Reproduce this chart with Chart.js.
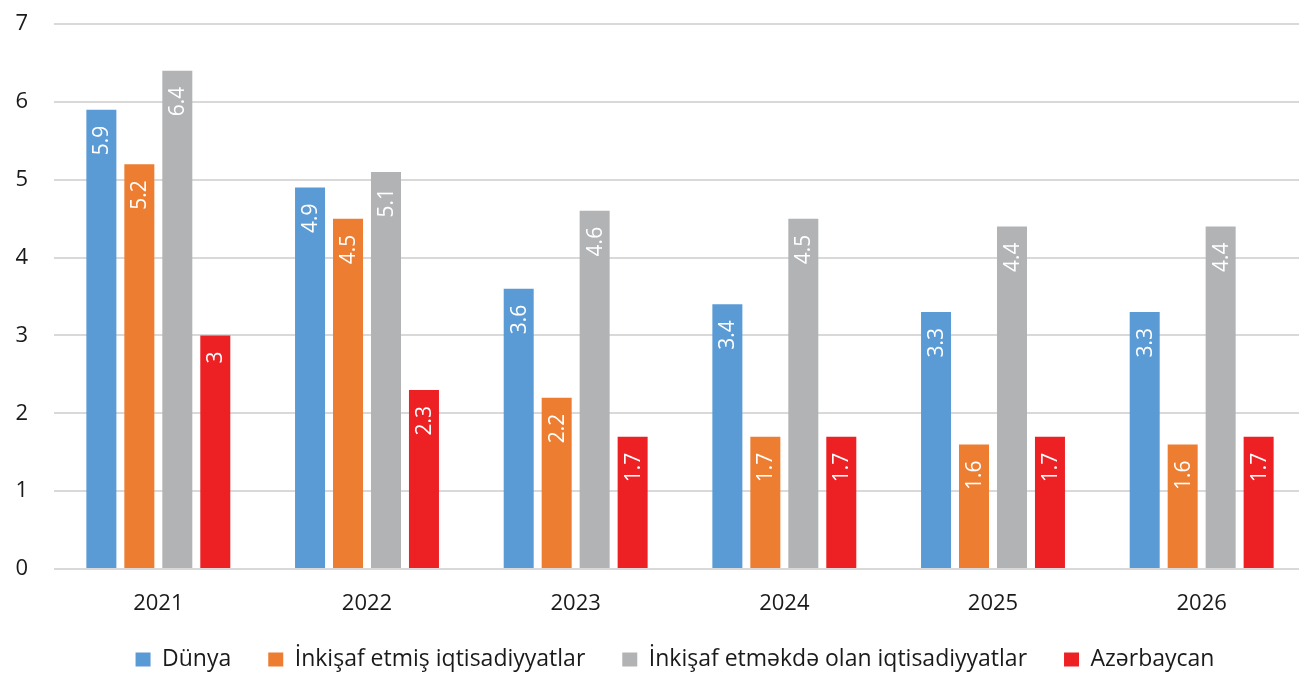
<!DOCTYPE html>
<html>
<head>
<meta charset="utf-8">
<script src="https://cdn.jsdelivr.net/npm/chart.js@4/dist/chart.umd.min.js"></script>
<style>
html,body{margin:0;padding:0;background:#fff;overflow:hidden;}
#wrap{width:1306px;height:674px;position:relative;}
</style>
</head>
<body>
<div id="wrap"><canvas id="c"></canvas></div>
<script>
const categories = ['2021','2022','2023','2024','2025','2026'];
const seriesNames = ['Dünya','İnkişaf etmiş iqtisadiyyatlar','İnkişaf etməkdə olan iqtisadiyyatlar','Azərbaycan'];
const dunya = [5.9, 4.9, 3.6, 3.4, 3.3, 3.3];
const inkisafEtmis = [5.2, 4.5, 2.2, 1.7, 1.6, 1.6];
const inkisafEtmekde = [6.4, 5.1, 4.6, 4.5, 4.4, 4.4];
const azerbaycan = [3, 2.3, 1.7, 1.7, 1.7, 1.7];
const yTicks = [0,1,2,3,4,5,6,7];

const colors = ['#5b9bd5','#ed7d31','#b2b3b5','#ed2024'];
const FONT = '"Open Sans", "Noto Sans", sans-serif';
const LEGEND_PAD = 37;
const LEGEND_HEIGHT = 55;

const labelPlugin = {
  id: 'barLabels',
  beforeLayout(chart) {
    const lg = chart.legend;
    if (lg && !lg._fitWrapped) {
      const orig = lg.fit.bind(lg);
      lg.fit = function () { orig(); this.height = LEGEND_HEIGHT; };
      lg._fitWrapped = true;
    }
  },
  afterLayout(chart) {
    const lg = chart.legend;
    if (lg) {
      lg.left += 22; lg.right += 22;
      lg.top -= 8; lg.height += 8;
    }
  },
  afterDatasetsDraw(chart) {
    const ctx = chart.ctx;
    chart.data.datasets.forEach((ds, i) => {
      const meta = chart.getDatasetMeta(i);
      meta.data.forEach((bar, j) => {
        const v = ds.data[j];
        ctx.save();
        ctx.translate(bar.x, bar.y + 16);
        ctx.rotate(-Math.PI / 2);
        ctx.fillStyle = '#ffffff';
        ctx.font = '21px ' + FONT;
        ctx.textAlign = 'right';
        ctx.textBaseline = 'middle';
        ctx.fillText(String(v), 0, 1);
        ctx.restore();
      });
    });
  }
};

new Chart(document.getElementById('c'), {
  type: 'bar',
  data: {
    labels: categories,
    datasets: [dunya, inkisafEtmis, inkisafEtmekde, azerbaycan].map((d, i) => ({
      label: seriesNames[i],
      data: d,
      backgroundColor: colors[i],
      categoryPercentage: 0.728,
      barPercentage: 0.79
    }))
  },
  options: {
    responsive: true,
    maintainAspectRatio: false,
    animation: false,
    layout: { padding: { top: 24, left: 0, right: 0, bottom: 0 } },
    plugins: {
      tooltip: { enabled: false },
      legend: {
        position: 'bottom',
        labels: {
          font: { family: FONT, size: 23 },
          color: '#1a1a1a',
          boxWidth: 15,
          boxHeight: 14,
          padding: LEGEND_PAD
        }
      }
    },
    scales: {
      x: {
        afterFit(axis) { axis.height = 50; },
        grid: { display: false, drawTicks: false },
        border: { display: false },
        ticks: { font: { family: FONT, size: 22 }, color: '#1a1a1a', padding: 22 }
      },
      y: {
        min: 0, max: 7,
        afterBuildTicks(axis) { axis.ticks = yTicks.map(v => ({ value: v })); },
        afterFit(axis) { axis.width = 54; axis.paddingTop = 0; axis.paddingBottom = 0; },
        grid: { color: '#d9d9d9', lineWidth: 2, drawTicks: false },
        border: { display: false },
        ticks: { font: { family: FONT, size: 22 }, color: '#1a1a1a', padding: 26 }
      }
    }
  },
  plugins: [labelPlugin]
});
</script>
</body>
</html>
